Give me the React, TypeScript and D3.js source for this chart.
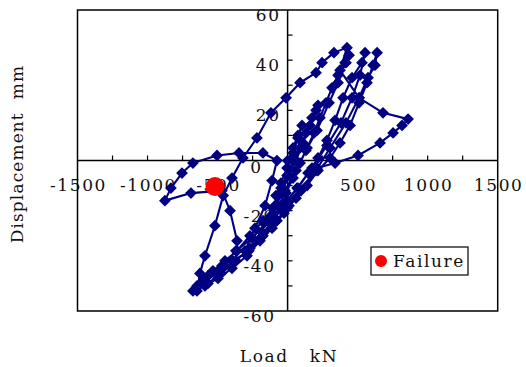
import React from 'react';
import * as d3 from 'd3';

// load (kN) and displacement (mm), in test order
const load = [
  0, 39, 74, 103, 74, 39, -4, -47, -83, -47, -4, 39, 89, 131, 174, 217, 203, 160, 110, 60,
  10, -47, -104, -169, -126, -69, -11, 39, 89, 139, 189, 231, 274, 317, 360, 417, 439, 410, 360, 296,
  210, 131, 60, -19, -90, -176, -269, -361, -447, -533, -604, -654, -569, -474, -369, -269, -176, -90, -4, 74,
  146, 217, 281, 339, 396, 460, 531, 553, 517, 460, 381, 281, 174, 67, -33, -140, -254, -369, -469, -569,
  -647, -676, -590, -497, -397, -290, -197, -111, -26, 60, 139, 217, 303, 374, 446, 510, 567, 610, 639, 624,
  574, 510, 417, 303, 203, 96, 10, -76, -176, -276, -390, -497, -597, -647, -626, -590, -519, -460, -397, -319,
  -219, -119, -11, 89, 203, 246, 331, 424, 374, 510, 681, 860, 817, 753, 660, 503, 339, 211, 89, -4,
  -97, -197, -304, -233, -161, -111, -76, -176, -347, -504, -676, -754, -833, -876, -690, -469, -411, -361,
];
const displacement = [
  0, 5, 10, 14, 9, 3, -3, -9, -14, -11, -6, 0, 5, 11, 17, 22, 20, 14, 7, 0,
  -6, -13, -19, -25, -23, -18, -13, -7, -1, 5, 11, 17, 23, 29, 34, 39, 42, 39, 31, 23,
  12, 4, -4, -12, -18, -24, -30, -36, -40, -44, -48, -51, -49, -45, -40, -35, -29, -23, -16, -11,
  -5, 1, 8, 16, 25, 33, 39, 43, 34, 25, 15, 6, -3, -11, -18, -24, -31, -36, -42, -46,
  -50, -52, -50, -47, -43, -38, -32, -27, -21, -15, -10, -4, 1, 7, 14, 23, 31, 38, 43, 38,
  33, 25, 15, 5, -4, -12, -18, -24, -30, -36, -40, -45, -48, -52, -45, -38, -26, -14, -7, 1,
  9, 19, 25, 31, 35, 39, 43, 45, 36, 25, 19, 16.5, 14, 11, 7, 2, -1, -3, -12, -19,
  -25, -31, -36, -27, -18, -8, 0, 3, 3, 2, -1, -5, -11, -16, -13, -12, -20, -32,
];

const failureLoad = [-518];
const failureDisp = [-10.4];

const xTickValues = d3.range(-1250, 1251, 250).filter(v => v !== 0);
const yTickValues = d3.range(-50, 51, 10).filter(v => v !== 0);
const xLabels = [-1500, -1000, -500, 500, 1000, 1500];
const yLabels = [60, 40, 20, -20, -40, -60];

const W = 526, H = 367;
const FONT = "'DejaVu Serif', serif";
const NAVY = '#000080';

const App = () => {
  const x = d3.scaleLinear().domain([-1500, 1500]).range([77.5, 497.7]);
  const y = d3.scaleLinear().domain([-60, 60]).range([311, 10]);
  const x0 = x(0), y0 = y(0);

  const pts = load.map((l, i) => [x(l), y(displacement[i])] as [number, number]);
  const path = d3.line()(pts) || '';
  const diamond = d3.symbol(d3.symbolDiamond2, 88)() || '';

  const textStyle = { fontFamily: FONT, fontSize: 17, fill: '#111', letterSpacing: 1.6 };

  return (
    <svg width={W} height={H} style={{ position: 'absolute', left: 0, top: 0, display: 'block' }}>
      <rect x={0} y={0} width={W} height={H} fill="#fff" />
      <rect x={x(-1500)} y={y(60)} width={x(1500) - x(-1500)} height={y(-60) - y(60)}
        fill="none" stroke="#000" strokeWidth={1.5} />
      <line x1={x(-1500)} x2={x(1500)} y1={y0} y2={y0} stroke="#000" strokeWidth={1.5} />
      <line x1={x0} x2={x0} y1={y(60)} y2={y(-60)} stroke="#000" strokeWidth={1.5} />
      {xTickValues.map(v => (
        <line key={'xt' + v} x1={x(v)} x2={x(v)} y1={y0} y2={y0 - 5} stroke="#000" strokeWidth={1.2} />
      ))}
      {yTickValues.map(v => (
        <line key={'yt' + v} x1={x0} x2={x0 + 5} y1={y(v)} y2={y(v)} stroke="#000" strokeWidth={1.2} />
      ))}
      {xLabels.map(v => (
        <text key={'xl' + v} x={x(v) + 1} y={y0 + 30} textAnchor="middle" style={textStyle}>{v}</text>
      ))}
      {yLabels.map(v => (
        <text key={'yl' + v} x={v > 0 ? x0 - 7 : x0 - 12} y={y(v) + 11} textAnchor="end" style={textStyle}>{v}</text>
      ))}
      <text x={x0 - 25} y={y0 + 12} textAnchor="end" style={textStyle}>0</text>

      <path d={path} fill="none" stroke={NAVY} strokeWidth={2.1} strokeLinejoin="round" />
      {pts.map((p, i) => (
        <path key={'m' + i} d={diamond} transform={`translate(${p[0]},${p[1]})`} fill={NAVY} />
      ))}
      {failureLoad.map((l, i) => (
        <circle key={'f' + i} cx={x(l)} cy={y(failureDisp[i])} r={9.5} fill="#ff0000" />
      ))}

      <rect x={371} y={247} width={97} height={28} fill="#fff" stroke="#000" strokeWidth={1.2} />
      <circle cx={381} cy={261} r={6} fill="#ff0000" />
      <text x={393} y={267} style={textStyle}>Failure</text>

      <text x={289} y={362} textAnchor="middle" style={{ ...textStyle, whiteSpace: 'pre' }}>Load   kN</text>
      <text transform={`translate(23,154) rotate(-90)`} textAnchor="middle"
        style={{ ...textStyle, letterSpacing: 1.1, whiteSpace: 'pre' }}>Displacement  mm</text>
    </svg>
  );
};

export default App;
